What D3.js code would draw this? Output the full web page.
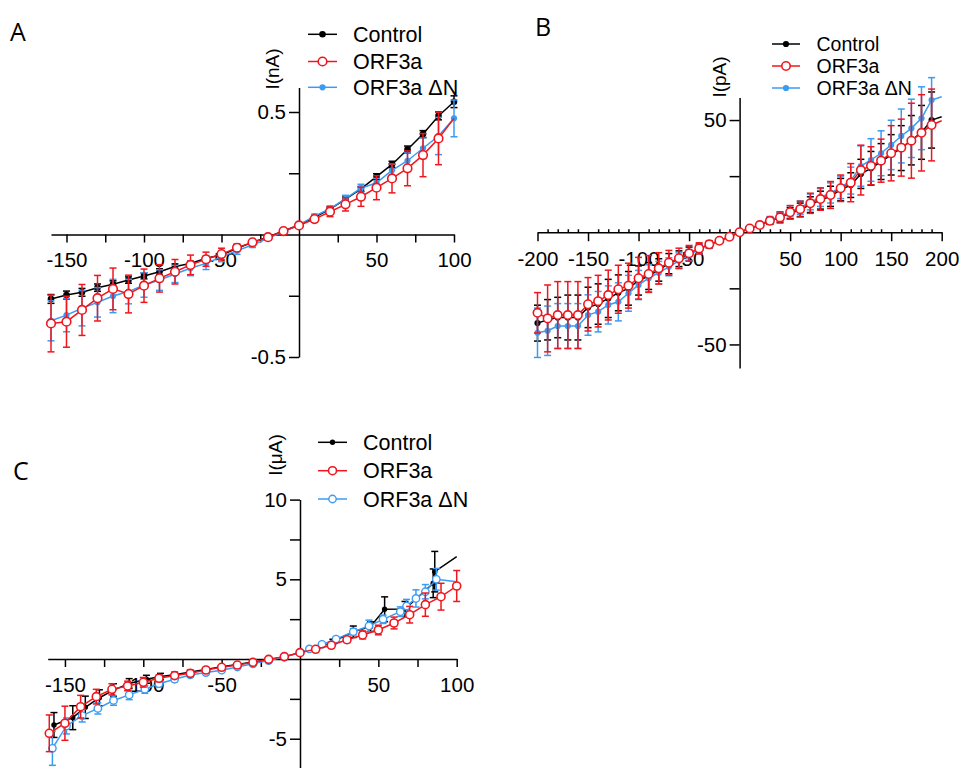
<!DOCTYPE html>
<html lang="en">
<head>
<meta charset="UTF-8">
<title>I-V curves</title>
<script src="https://cdn.jsdelivr.net/npm/d3@7"></script>
<style>
  body { margin: 0; background: #fff; }
  svg { display: block; }
  .axis path, .axis line { stroke: #000; stroke-width: 1.5; }
  .axis text { font-family: "Liberation Sans", Arial, sans-serif; font-size: 20.5px; fill: #000; }
  .leg text { font-family: "Liberation Sans", Arial, sans-serif; }
</style>
</head>
<body>
<script>
// ---- data ----
const names = ["Control", "ORF3a", "ORF3a \u0394N"];

// panel A, I in nA
const vA = [-160,-150,-140,-130,-120,-110,-100,-90,-80,-70,-60,-50,-40,-30,-20,-10,0,10,20,30,40,50,60,70,80,90,100];
const ctrlA = [-0.263,-0.247,-0.236,-0.217,-0.203,-0.186,-0.169,-0.152,-0.131,-0.118,-0.097,-0.084,-0.056,-0.032,-0.010,0.014,0.039,0.070,0.104,0.144,0.186,0.236,0.286,0.347,0.410,0.484,0.542];
const ctrlAerr = [0.018,0.016,0.016,0.015,0.014,0.013,0.012,0.012,0.011,0.010,0.008,0.007,0.006,0.005,0.004,0.003,0.003,0.005,0.007,0.009,0.010,0.012,0.013,0.014,0.014,0.016,0.024];
const orfA = [-0.363,-0.356,-0.308,-0.260,-0.222,-0.243,-0.209,-0.179,-0.152,-0.124,-0.101,-0.080,-0.054,-0.032,-0.011,0.014,0.037,0.063,0.093,0.123,0.154,0.191,0.229,0.270,0.324,0.392,0.474];
const orfAerr = [0.116,0.104,0.104,0.093,0.085,0.077,0.068,0.056,0.050,0.040,0.029,0.024,0.015,0.008,0.004,0.003,0.003,0.012,0.020,0.027,0.039,0.049,0.059,0.071,0.088,0.107,0];
const dnA = [-0.352,-0.329,-0.301,-0.277,-0.251,-0.233,-0.206,-0.186,-0.161,-0.138,-0.118,-0.091,-0.066,-0.043,-0.016,0.011,0.039,0.075,0.105,0.146,0.189,0.211,0.262,0.301,0.352,0.402,0.474];
const dnAerr = [0.082,0.068,0.072,0.060,0.068,0.050,0.050,0.042,0.035,0.030,0.025,0.020,0.015,0.010,0.006,0.004,0.003,0.008,0.012,0.014,0.016,0.018,0.025,0.032,0.042,0.076,0.075];

// panel B, I in pA
const vB = [-200,-190,-180,-170,-160,-150,-140,-130,-120,-110,-100,-90,-80,-70,-60,-50,-40,-30,-20,-10,0,10,20,30,40,50,60,70,80,90,100,110,120,130,140,150,160,170,180,190,200];
const ctrlB = [-40.5,-39.0,-38.0,-38.0,-38.0,-33.5,-32.0,-29.5,-27.0,-25.0,-21.5,-19.5,-16.8,-14.0,-11.8,-9.6,-7.3,-5.5,-3.8,-2.0,0,1.7,3.2,5.0,6.5,8.5,10.0,12.3,14.3,16.0,19.0,21.0,26.0,28.5,31.5,34.5,37.5,41.0,44.5,50.0,51.5];
const ctrlBerr = [8,9,9,10,10,9,9,8.5,8,7.5,6.5,6,5,4.5,3.5,3,2,1.5,1,0.5,0.3,0.6,1,1.5,2,2.5,3,3.5,4,4.5,5,5.5,6.5,7.5,8,9,10,11,12,12.5,0];
const orfB = [-35.9,-38.4,-36.9,-36.9,-36.9,-32.1,-30.7,-28.0,-25.4,-23.8,-20.5,-18.6,-16.1,-13.6,-11.6,-9.4,-7.2,-5.4,-3.8,-2.0,0,1.7,3.2,5.1,6.6,8.9,10.3,12.9,14.8,16.6,19.6,22.1,27.7,29.6,31.9,35.2,37.7,40.8,44.3,47.8,49.7];
const orfBerr = [9,14.9,14.9,14.9,14.9,11.9,11.5,11.1,10.7,10,9.3,8.2,7,5.5,4.5,3.5,2.5,1.5,1,0.5,0.4,0.5,0.8,1.5,2.5,3,3.5,4.5,5,6,5.9,8.5,11.1,8.5,9.6,12.3,12.7,16.7,17,16,0];
const dnB = [-44.8,-43.9,-41.8,-41.8,-41.8,-36.9,-35.4,-32.4,-31.0,-27.2,-23.5,-20.5,-18.0,-15.4,-12.7,-10.2,-7.6,-5.7,-3.9,-2.0,0,1.8,3.5,5.5,7.0,9.3,11.0,13.5,15.5,17.5,20.0,23.0,29.5,32.2,35.2,38.9,42.9,46.3,50.8,58.9,60.4];
const dnBerr = [11,11,10,10,10,9,9,8.5,8.5,8,6.5,6,5,4,3.5,2.5,2,1.5,1,0.5,0.3,0.5,1,1.5,2,2.5,3,3.5,4,4.5,5,6,9,9.5,10,11,12,13,14,10,0];

// panel C, I in uA
const vCctrl = [-157,-145,-137,-128,-119,-109,-98,-89,-80,-70,-60,-50,-40,-30,-20,-10,0,10,21,34,45,54,67,85,86,100];
const ctrlC = [-4.14,-3.68,-3.03,-2.43,-1.95,-1.53,-1.27,-1.1,-0.98,-0.82,-0.65,-0.48,-0.34,-0.19,-0.04,0.14,0.4,0.62,1.09,1.71,2.03,3.12,3.14,4.75,5.48,6.42];
const ctrlCerr = [0.78,0.75,0.7,0.5,0.4,0.3,0.25,0.2,0.15,0.12,0.1,0.1,0.08,0.06,0.05,0.05,0.05,0.08,0.15,0.36,0.3,0.78,0.47,0.9,1.27,0];
const vCorf = [-160,-150,-140,-130,-120,-110,-100,-90,-80,-70,-60,-50,-40,-30,-20,-10,0,10,20,30,40,50,60,70,80,90,100];
const orfC = [-4.66,-4.03,-2.99,-2.36,-1.90,-1.69,-1.46,-1.21,-1.04,-0.90,-0.69,-0.52,-0.38,-0.21,-0.02,0.15,0.40,0.61,0.86,1.21,1.51,1.82,2.26,2.78,3.41,3.91,4.58];
const orfCerr = [1.15,1.07,0.71,0.46,0.35,0.3,0.3,0.2,0.15,0.12,0.1,0.08,0.06,0.05,0.04,0.04,0.04,0.06,0.12,0.18,0.25,0.3,0.37,0.52,0.73,0.84,0.97];
const vCdn = [-158,-149,-139,-129,-119,-109,-99,-90,-80,-70,-60,-50,-40,-30,-20,-10,0,6,14,23,34,44,53,64,68,74,80,87,100];
const dnC = [-5.6,-4.2,-3.55,-3.1,-2.6,-2.25,-1.9,-1.55,-1.27,-1.0,-0.85,-0.7,-0.5,-0.3,-0.1,0.12,0.4,0.63,0.92,1.25,1.71,2.07,2.49,2.97,3.32,3.8,4.22,5.0,4.85];
const dnCerr = [1.07,0.5,0.4,0.35,0.3,0.3,0.25,0.2,0.15,0.12,0.1,0.08,0.06,0.05,0.04,0.04,0.04,0.05,0.08,0.12,0.2,0.37,0.26,0.3,0.42,0.54,0.45,0.68,0];

const BLACK = "#000", RED = "#f0161e", BLUE = "#3a9bf2";

const svg = d3.select("body").append("svg").attr("width", 959).attr("height", 768);
svg.append("rect").attr("width", 959).attr("height", 768).attr("fill", "#fff");

function zip(v, i, e) { return v.map((d, k) => ({ v: d, i: i[k], e: e[k] })); }

function drawMarker(sel, m) {
  sel.attr("r", m.r).attr("fill", m.fill).attr("stroke", m.stroke).attr("stroke-width", m.sw);
}

function panel(c) {
  const x = d3.scaleLinear().domain(c.xDomain).range(c.xRange);
  const y = d3.scaleLinear().domain(c.yDomain).range(c.yRange);
  const g = svg.append("g");

  // x axis through I = 0
  g.append("g").attr("class", "axis").attr("transform", `translate(0,${y(0)})`)
    .call(d3.axisBottom(x).tickValues(c.xTicks).tickSize(c.xTickLen).tickSizeOuter(0).tickPadding(10)
      .tickFormat(d => c.xLabels.includes(d) ? String(d) : ""));
  if (c.xMinor) {
    g.append("g").attr("class", "axis").attr("transform", `translate(0,${y(0)})`)
      .call(d3.axisTop(x).tickValues(c.xMinor).tickSize(3).tickSizeOuter(0).tickFormat(""))
      .call(s => s.select(".domain").remove());
  }
  // y axis through V = 0
  g.append("g").attr("class", "axis").attr("transform", `translate(${x(0)},0)`)
    .call(d3.axisLeft(y).tickValues(c.yTicks).tickSize(10).tickSizeOuter(0).tickPadding(3)
      .tickFormat(d => c.yLabels.includes(d) ? String(d) : ""));

  g.append("text").attr("transform", `translate(${c.yTitle[0]},${c.yTitle[1]}) rotate(-90)`)
    .attr("text-anchor", "middle").attr("font-family", "Liberation Sans, Arial, sans-serif")
    .attr("font-size", 19).text(c.yTitleText);

  g.append("text").attr("x", c.letter[0]).attr("y", c.letter[1])
    .attr("font-family", "Open Sans, sans-serif").attr("font-size", 25).text(c.letterText);

  const line = d3.line().x(d => x(d.v)).y(d => y(d.i));
  c.series.forEach(s => {
    const pts = zip(s.v, s.i, s.e);
    const sg = g.append("g");
    sg.append("path").datum(pts).attr("d", line).attr("fill", "none")
      .attr("stroke", s.color).attr("stroke-width", 1.5);
    const eb = sg.append("g").attr("stroke", s.color).attr("stroke-width", 1.5);
    pts.filter(d => d.e > 0).forEach(d => {
      const xx = x(d.v), y1 = y(d.i - d.e), y2 = y(d.i + d.e);
      eb.append("line").attr("x1", xx).attr("x2", xx).attr("y1", y1).attr("y2", y2);
      eb.append("line").attr("x1", xx - 3.5).attr("x2", xx + 3.5).attr("y1", y1).attr("y2", y1);
      eb.append("line").attr("x1", xx - 3.5).attr("x2", xx + 3.5).attr("y1", y2).attr("y2", y2);
    });
    const mk = s.openEnd ? pts.slice(0, -1) : pts;
    sg.selectAll("circle").data(mk).join("circle")
      .attr("cx", d => x(d.v)).attr("cy", d => y(d.i)).call(drawMarker, s.marker);
  });

  // legend
  const lg = g.append("g").attr("class", "leg");
  c.legendOrder.forEach((k, n) => {
    const s = c.series.find(t => t.name === k);
    const yy = c.legend.y[n];
    lg.append("line").attr("x1", c.legend.x1).attr("x2", c.legend.x2).attr("y1", yy).attr("y2", yy)
      .attr("stroke", s.color).attr("stroke-width", 1.5);
    lg.append("circle").attr("cx", (c.legend.x1 + c.legend.x2) / 2).attr("cy", yy).call(drawMarker, s.marker);
    lg.append("text").attr("x", c.legend.tx).attr("y", yy).attr("dy", "0.36em")
      .attr("font-size", c.legend.size).text(k);
  });
}

const filledDot = (col, r) => ({ r: r, fill: col, stroke: col, sw: 0 });
const openDot = (col, r, sw) => ({ r: r, fill: "#fff", stroke: col, sw: sw });

// Panel A
panel({
  xDomain: [-160, 100], xRange: [51, 454],
  yDomain: [-0.5, 0.6], yRange: [357, 87.5],
  xTicks: [-150, -125, -100, -75, -50, -25, 25, 50, 75, 100], xLabels: [-150, -100, -50, 50, 100], xTickLen: 8,
  yTicks: [0.5, 0.25, -0.25, -0.5], yLabels: [0.5, -0.5],
  yTitle: [279, 69], yTitleText: "I(nA)", letter: [10, 41], letterText: "A",
  legend: { x1: 308, x2: 337, tx: 353, y: [34.3, 61.5, 87.3], size: 21.5 },
  legendOrder: names,
  series: [
    { name: names[0], v: vA, i: ctrlA, e: ctrlAerr, color: BLACK, marker: filledDot(BLACK, 3.3) },
    { name: names[2], v: vA, i: dnA, e: dnAerr, color: BLUE, marker: filledDot(BLUE, 3.1) },
    { name: names[1], v: vA, i: orfA, e: orfAerr, color: RED, marker: openDot(RED, 4.3, 1.6), openEnd: true }
  ]
});

// Panel B
panel({
  xDomain: [-200, 200], xRange: [537.5, 941.7],
  yDomain: [-60.5, 60], yRange: [368, 97.6],
  xTicks: [-200, -150, -100, -50, 50, 100, 150, 200], xLabels: [-200, -150, -100, -50, 50, 100, 150, 200], xTickLen: 9,
  xMinor: vB.filter(d => d % 50 !== 0),
  yTicks: [50, 25, -25, -50], yLabels: [50, -50],
  yTitle: [726, 77], yTitleText: "I(pA)", letter: [535, 36], letterText: "B",
  legend: { x1: 772, x2: 800, tx: 816.5, y: [44, 66, 88], size: 19.5 },
  legendOrder: names,
  series: [
    { name: names[0], v: vB, i: ctrlB, e: ctrlBerr, color: BLACK, marker: filledDot(BLACK, 3.1), openEnd: true },
    { name: names[2], v: vB, i: dnB, e: dnBerr, color: BLUE, marker: filledDot(BLUE, 3.1), openEnd: true },
    { name: names[1], v: vB, i: orfB, e: orfBerr, color: RED, marker: openDot(RED, 4.2, 1.6), openEnd: true }
  ]
});

// Panel C
panel({
  xDomain: [-161, 100], xRange: [47.7, 456.7],
  yDomain: [-7, 10], yRange: [770.6, 499.6],
  xTicks: [-150, -125, -100, -75, -50, -25, 25, 50, 75, 100], xLabels: [-150, -100, -50, 50, 100], xTickLen: 8,
  yTicks: [10, 7.5, 5, 2.5, -2.5, -5], yLabels: [10, 5, -5],
  yTitle: [282, 455], yTitleText: "I(\u03bcA)", letter: [13, 480], letterText: "C",
  legend: { x1: 318, x2: 347, tx: 363, y: [442.3, 470.7, 499], size: 21.5 },
  legendOrder: names,
  series: [
    { name: names[0], v: vCctrl, i: ctrlC, e: ctrlCerr, color: BLACK, marker: filledDot(BLACK, 2.7), openEnd: true },
    { name: names[2], v: vCdn, i: dnC, e: dnCerr, color: BLUE, marker: openDot(BLUE, 3.7, 1.4), openEnd: true },
    { name: names[1], v: vCorf, i: orfC, e: orfCerr, color: RED, marker: openDot(RED, 4, 1.6) }
  ]
});
</script>
</body>
</html>
